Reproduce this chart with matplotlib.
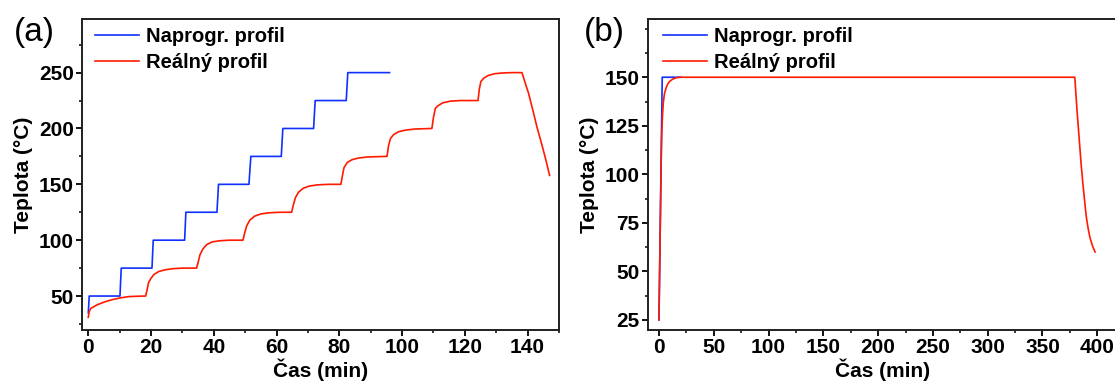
import matplotlib
matplotlib.use("Agg")
import matplotlib.pyplot as plt
from matplotlib.ticker import MultipleLocator, FixedLocator

plt.rcParams['font.family'] = ['Liberation Sans', 'DejaVu Sans']

# ======== Data (a): step program 50 -> 250 °C ========
a_prog_t = [0, 0.3, 10.1, 10.5, 20.3, 20.7, 30.7, 31.1, 41.0, 41.5, 51.2, 51.8,
            61.5, 62.0, 71.8, 72.3, 82.2, 82.7, 96.0]
a_prog_T = [35, 50, 50, 75, 75, 100, 100, 125, 125, 150, 150, 175,
            175, 200, 200, 225, 225, 250, 250]

a_real_t = [0, 0.3, 0.8, 1.5, 2.7, 4.5, 6, 8, 10.5, 13, 15.5, 18.3,
            18.7, 19.2, 20, 21, 22.5, 24.5, 27, 30, 34.5,
            35.0, 35.6, 36.5, 37.7, 39.5, 42, 45, 49.3,
            49.7, 50.5, 51.5, 53, 55, 57.5, 61, 64.8,
            65.3, 66, 67, 68.5, 70.5, 73, 76.5, 80.5,
            81, 81.5, 82.5, 84, 86, 89, 95.2,
            95.7, 96.3, 97.3, 98.8, 101, 104, 109.5,
            110, 110.6, 111.5, 113, 115.5, 118.5, 124.2,
            124.6, 125.1, 126, 127.5, 129.5, 132, 135, 138.2,
            139.2, 140.3, 141.7, 143, 144.5, 145.8, 147]
a_real_T = [31, 36, 39, 40, 42, 44, 45.5, 47, 48.5, 49.5, 49.8, 50,
            55, 62, 66, 69.5, 72, 73.5, 74.5, 75, 75,
            80, 87, 92, 96, 98.5, 99.5, 100, 100,
            105, 113, 118, 121.5, 123.5, 124.5, 125, 125,
            131, 138, 143, 146.5, 148.5, 149.5, 150, 150,
            158, 165, 169.5, 172, 173.5, 174.5, 175,
            185, 191, 194.5, 197, 198.5, 199.5, 200,
            210, 218, 220.5, 223, 224.5, 225, 225,
            235, 242, 245, 247.5, 249, 249.7, 250, 250,
            241, 231.5, 216, 201, 186, 172, 158]

# ======== Data (b): hold at 150 °C ========
b_prog_t = [0, 3, 20]
b_prog_T = [25, 150, 150]

b_real_t = [0, 0.5, 1.0, 1.5, 2.0, 2.5, 3.2, 4.0, 5.0, 6.5, 8.0, 10.0, 12.5, 15.5, 19,
            379.5, 381.5, 383.6, 385.3, 386.9, 388.5, 390, 391.7, 393.3, 395.7, 398]
b_real_T = [25, 45, 65, 85, 105, 120, 130, 137, 141.5, 144.5, 146.5, 148, 149, 149.7, 150,
            150, 133, 117.5, 105, 95, 86, 78, 72, 67.5, 63, 60]

a_yticks = [50, 100, 150, 200, 250]
b_yticks = [25, 50, 75, 100, 125, 150]

BLUE = '#1030ff'
RED = '#ff1a00'
LABELS = ['Naprogr. profil', 'Reálný profil']

W, H = 1115, 381
fig = plt.figure(figsize=(W / 100, H / 100), dpi=100)


def px_axes(x0, x1, y0, y1):
    # axes box given in pixel coords of the picture (y from top)
    return fig.add_axes([x0 / W, 1 - y1 / H, (x1 - x0) / W, (y1 - y0) / H])


def style(ax, xmaj, xmin, yticks, ymin):
    ax.xaxis.set_major_locator(MultipleLocator(xmaj))
    ax.xaxis.set_minor_locator(MultipleLocator(xmin))
    ax.yaxis.set_major_locator(FixedLocator(yticks))
    ax.yaxis.set_minor_locator(MultipleLocator(ymin))
    ax.tick_params(which='major', direction='out', length=4, width=1.3,
                   labelsize=15, pad=2, top=False, right=False)
    ax.tick_params(which='minor', direction='out', length=2.5, width=1.1,
                   top=False, right=False)
    for lab in ax.get_xticklabels() + ax.get_yticklabels():
        lab.set_fontweight('bold')
    for s in ax.spines.values():
        s.set_linewidth(1.4)
        s.set_color('#202020')
    ax.set_xlabel('Čas (min)', fontsize=15, fontweight='bold', labelpad=1)
    ax.set_ylabel('Teplota (°C)', fontsize=15, fontweight='bold', labelpad=4)


def add_legend(ax, x0):
    ax.legend(loc='upper left', bbox_to_anchor=(x0, 0.975), frameon=False,
              prop={'size': 14.5, 'weight': 'bold'}, handlelength=2.2,
              handletextpad=0.35, labelspacing=0.35, borderpad=0, borderaxespad=0)


# ---- panel (a) ----
ax1 = px_axes(82, 559, 19, 330)
ax1.plot(a_prog_t, a_prog_T, color=BLUE, lw=1.2, label=LABELS[0])
ax1.plot(a_real_t, a_real_T, color=RED, lw=1.2, label=LABELS[1])
ax1.set_xlim(-2, 150)
ax1.set_ylim(19.6, 298)
style(ax1, 20, 10, a_yticks, 25)
add_legend(ax1, 0.027)

# ---- panel (b) ----
ax2 = px_axes(648, 1117, 19, 330)
ax2.plot(b_prog_t, b_prog_T, color=BLUE, lw=1.2, label=LABELS[0])
ax2.plot(b_real_t, b_real_T, color=RED, lw=1.2, label=LABELS[1])
ax2.set_xlim(-10, 418)
ax2.set_ylim(19.8, 180)
style(ax2, 50, 25, b_yticks, 12.5)
add_legend(ax2, 0.032)

fig.text(14 / W, 1 - 33 / H, '(a)', fontsize=24, va='center', ha='left')
fig.text(584 / W, 1 - 33 / H, '(b)', fontsize=24, va='center', ha='left')

fig.savefig('out.png', dpi=100)
